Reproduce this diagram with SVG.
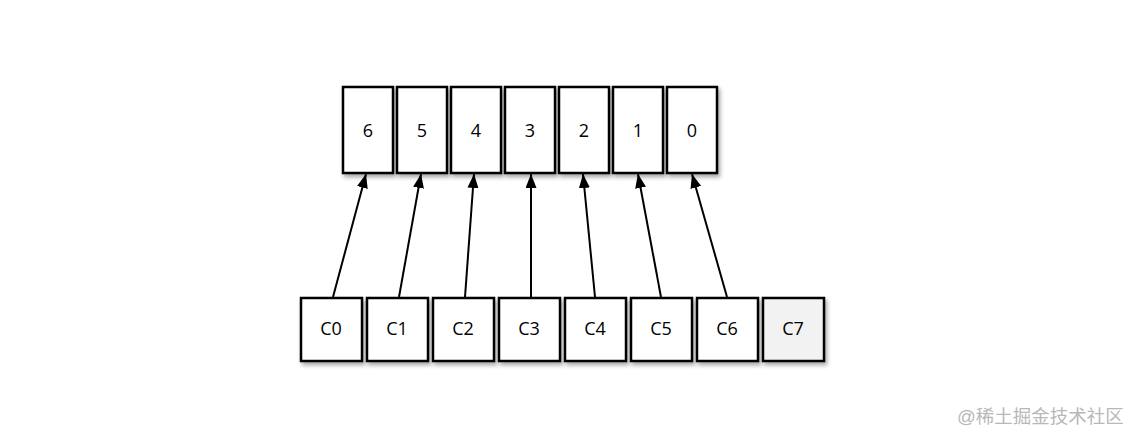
<svg xmlns="http://www.w3.org/2000/svg" width="1138" height="442" viewBox="0 0 1138 442">
<style>
.box{fill:#fff;stroke:#000;stroke-width:2.5;filter:url(#sh)}
.lbl{font-family:"Open Sans","Liberation Sans",sans-serif;font-size:18px;fill:#000;text-anchor:middle;dominant-baseline:central}
.conn{stroke:#000;stroke-width:2;fill:none;marker-end:url(#ah)}
.wm{font-family:"Liberation Sans","Noto Sans CJK SC",sans-serif;font-size:18.5px;fill:#b8b8b8}
</style>
<defs>
<filter id="sh" x="-20%" y="-20%" width="150%" height="150%">
<feDropShadow dx="2" dy="3" stdDeviation="2" flood-color="#000" flood-opacity="0.35"/>
</filter>
<marker id="ah" viewBox="0 0 14 11" refX="14" refY="5.5" markerWidth="14" markerHeight="11" markerUnits="userSpaceOnUse" orient="auto">
<path d="M0,0 L14,5.5 L0,11 Z" fill="#000"/>
</marker>
</defs>
<rect width="1138" height="442" fill="#fff"/>
<g id="top-6"><rect class="box" x="343" y="87" width="50" height="86"/><text class="lbl" x="368" y="130">6</text></g>
<g id="top-5"><rect class="box" x="397" y="87" width="50" height="86"/><text class="lbl" x="422" y="130">5</text></g>
<g id="top-4"><rect class="box" x="451" y="87" width="50" height="86"/><text class="lbl" x="476" y="130">4</text></g>
<g id="top-3"><rect class="box" x="505" y="87" width="50" height="86"/><text class="lbl" x="530" y="130">3</text></g>
<g id="top-2"><rect class="box" x="559" y="87" width="50" height="86"/><text class="lbl" x="584" y="130">2</text></g>
<g id="top-1"><rect class="box" x="613" y="87" width="50" height="86"/><text class="lbl" x="638" y="130">1</text></g>
<g id="top-0"><rect class="box" x="667" y="87" width="50" height="86"/><text class="lbl" x="692" y="130">0</text></g>
<g id="C0"><rect class="box" x="301" y="298" width="61" height="63"/><text class="lbl" x="331" y="328">C0</text></g>
<g id="C1"><rect class="box" x="367" y="298" width="61" height="63"/><text class="lbl" x="397" y="328">C1</text></g>
<g id="C2"><rect class="box" x="433" y="298" width="61" height="63"/><text class="lbl" x="463" y="328">C2</text></g>
<g id="C3"><rect class="box" x="499" y="298" width="61" height="63"/><text class="lbl" x="529" y="328">C3</text></g>
<g id="C4"><rect class="box" x="565" y="298" width="61" height="63"/><text class="lbl" x="595" y="328">C4</text></g>
<g id="C5"><rect class="box" x="631" y="298" width="61" height="63"/><text class="lbl" x="661" y="328">C5</text></g>
<g id="C6"><rect class="box" x="697" y="298" width="61" height="63"/><text class="lbl" x="727" y="328">C6</text></g>
<g id="C7"><rect class="box" x="763" y="298" width="61" height="63" style="fill:#f2f2f2"/><text class="lbl" x="793" y="328">C7</text></g>
<g id="connectors">
<line class="conn" x1="333" y1="297" x2="366" y2="174"/>
<line class="conn" x1="399" y1="297" x2="421" y2="174"/>
<line class="conn" x1="465" y1="297" x2="474" y2="174"/>
<line class="conn" x1="531" y1="297" x2="531" y2="174"/>
<line class="conn" x1="595" y1="297" x2="583" y2="174"/>
<line class="conn" x1="661" y1="297" x2="638" y2="174"/>
<line class="conn" x1="727" y1="297" x2="692" y2="174"/>
</g>
<text class="wm" x="957" y="423">@稀土掘金技术社区</text>
</svg>
